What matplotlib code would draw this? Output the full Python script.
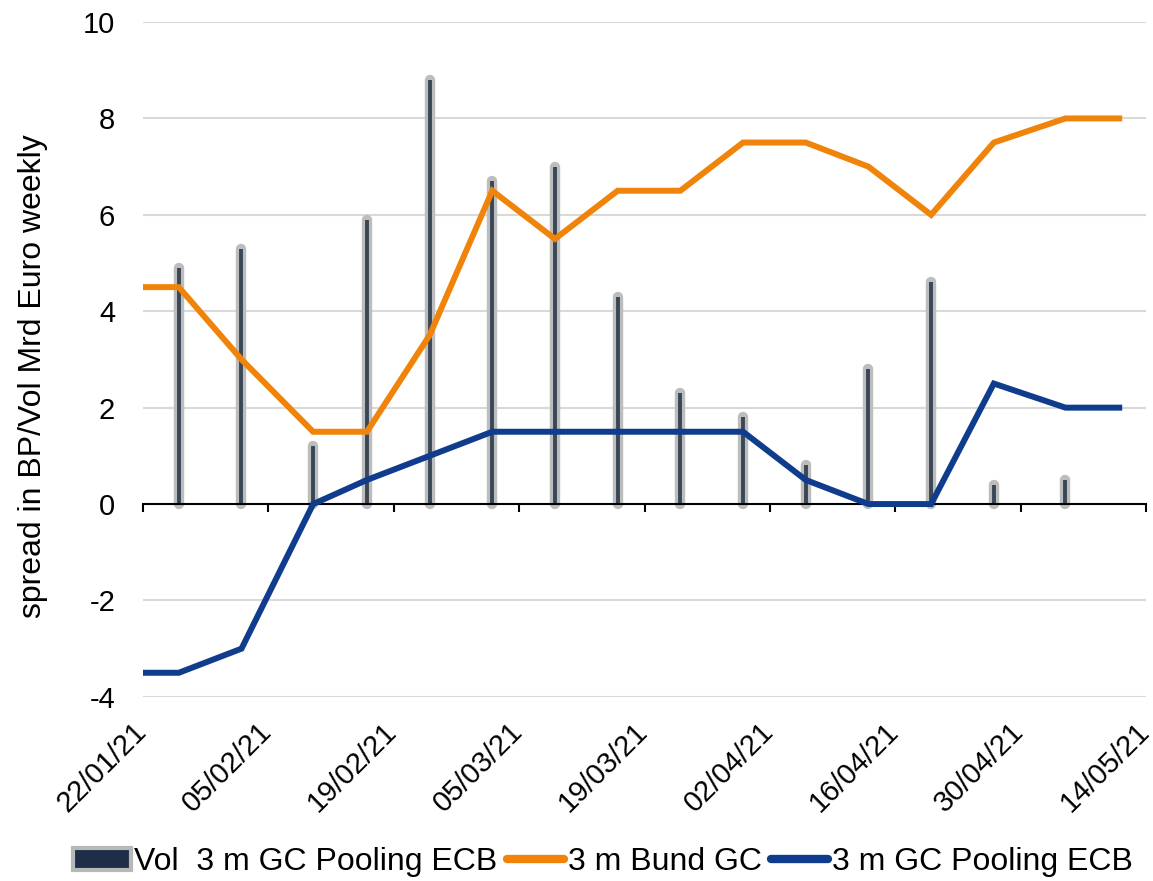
import matplotlib
matplotlib.use("Agg")
import matplotlib.pyplot as plt
import matplotlib.dates as mdates
import matplotlib.transforms as mtransforms
from matplotlib.patches import Patch
from matplotlib.lines import Line2D
import pandas as pd

plt.rcParams['font.family'] = ['Liberation Sans', 'DejaVu Sans']
plt.rcParams['axes.unicode_minus'] = False

# ---- data ----
bar_dates = ["2021-01-26", "2021-02-02", "2021-02-10", "2021-02-16", "2021-02-23",
             "2021-03-02", "2021-03-09", "2021-03-16", "2021-03-23", "2021-03-30",
             "2021-04-06", "2021-04-13", "2021-04-20", "2021-04-27", "2021-05-05"]
vol_values = [4.9, 5.3, 1.2, 5.9, 8.8, 6.7, 7.0, 4.3, 2.3, 1.8, 0.8, 2.8, 4.6, 0.4, 0.5]

line_dates = ["2021-01-22", "2021-01-26", "2021-02-02", "2021-02-10", "2021-02-16",
              "2021-02-23", "2021-03-02", "2021-03-09", "2021-03-16", "2021-03-23",
              "2021-03-30", "2021-04-06", "2021-04-13", "2021-04-20", "2021-04-27",
              "2021-05-05", "2021-05-11"]
bund_gc = [4.5, 4.5, 3.0, 1.5, 1.5, 3.5, 6.5, 5.5, 6.5, 6.5, 7.5, 7.5, 7.0, 6.0, 7.5, 8.0, 8.0]
gc_pooling = [-3.5, -3.5, -3.0, 0.0, 0.5, 1.0, 1.5, 1.5, 1.5, 1.5, 1.5, 0.5, 0.0, 0.0, 2.5, 2.0, 2.0]

tick_dates = ["2021-01-22", "2021-02-05", "2021-02-19", "2021-03-05", "2021-03-19",
              "2021-04-02", "2021-04-16", "2021-04-30", "2021-05-14"]
y_ticks = [-4, -2, 0, 2, 4, 6, 8, 10]

labels = ["Vol  3 m GC Pooling ECB", "3 m Bund GC", "3 m GC Pooling ECB"]
ylabel = "spread in BP/Vol Mrd Euro weekly"

# ---- styling ----
ORANGE = "#F0840A"
BLUE = "#0F3C8C"
DARK = "#3A4757"
GRAYBAR = "#BDBDBD"
GRID = "#D9D9D9"
FS_TICK = 21
FS_TEXT = 23

bx = pd.to_datetime(bar_dates)
lx = pd.to_datetime(line_dates)
tx = pd.to_datetime(tick_dates)

fig = plt.figure(figsize=(11.53, 8.81), dpi=100)
ax = fig.add_axes([0.124, 0.209, 0.870, 0.766])

ax.set_xlim(tx[0], tx[-1])
ax.set_ylim(-4, 10)
ax.set_yticks(y_ticks)
for y in y_ticks:
    if y != 0:
        ax.axhline(y, color=GRID, lw=1.5, zorder=0)

# bars as thin rounded columns
ax.vlines(bx, 0, vol_values, color=GRAYBAR, lw=7.5, capstyle='round', zorder=2)
ax.vlines(bx, 0, vol_values, color=DARK, lw=2.8, zorder=3)

ax.plot(lx, bund_gc, color=ORANGE, lw=4.3, solid_joinstyle='miter', zorder=5)
ax.plot(lx, gc_pooling, color=BLUE, lw=4.3, solid_joinstyle='miter', zorder=5)

for s in ax.spines.values():
    s.set_visible(False)

# date labels at the bottom of the plot area
ax.set_xticks(tx)
ax.set_xticklabels([])
ax.tick_params(axis='x', length=0)
base = mtransforms.blended_transform_factory(ax.transData, ax.transAxes)
lab_trans = mtransforms.offset_copy(base, fig=fig, x=-11, y=-20, units='dots')
for d in tx:
    ax.text(mdates.date2num(d), 0, d.strftime("%d/%m/%y"), transform=lab_trans,
            rotation=45, ha='right', va='top', rotation_mode='anchor',
            fontsize=FS_TICK)

ax.tick_params(axis='y', length=0, pad=20, labelsize=FS_TICK)
fig.text(33 / 1153, 1 - 376 / 881, ylabel, rotation=90, ha='center', va='center',
         fontsize=FS_TEXT)

# x axis line at zero with tick marks
sec = ax.secondary_xaxis(4 / 14)
sec.set_xticks(tx)
sec.set_xticklabels([])
sec.spines['bottom'].set_color('black')
sec.spines['bottom'].set_linewidth(1.5)
sec.tick_params(axis='x', direction='out', length=6, width=1.5, color='black')
sec.set_zorder(4)

handles = [Patch(facecolor="#1E2E48", edgecolor="#B8B8B8", linewidth=3, joinstyle='round'),
           Line2D([0], [0], color=ORANGE, lw=6, solid_capstyle='round'),
           Line2D([0], [0], color=BLUE, lw=6, solid_capstyle='round')]
fig.legend(handles, labels, loc='center', bbox_to_anchor=(0.523, 0.0216), ncol=3,
           frameon=False, fontsize=FS_TEXT, handlelength=1.8, handletextpad=0.12,
           columnspacing=0.28, borderpad=0.0)

fig.savefig("out.png", dpi=100)
